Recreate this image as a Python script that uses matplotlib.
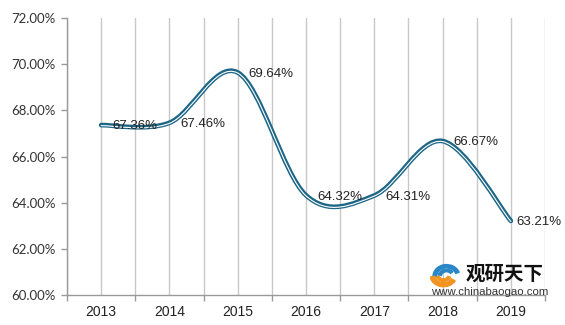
import matplotlib
matplotlib.use("Agg")
import matplotlib.pyplot as plt
import matplotlib.patheffects as pe
from matplotlib.path import Path
from matplotlib.patches import PathPatch, Wedge
from matplotlib.ticker import FuncFormatter, FixedLocator
import numpy as np

years = ["2013", "2014", "2015", "2016", "2017", "2018", "2019"]
rates = [67.36, 67.46, 69.64, 64.32, 64.31, 66.67, 63.21]
labels = ["67.36%", "67.46%", "69.64%", "64.32%", "64.31%", "66.67%", "63.21%"]


def smooth_path(xs, ys):
    # Excel-style smoothed line: cubic bezier through the points
    pts = np.column_stack([xs, ys])
    n = len(pts)
    verts = [pts[0]]
    codes = [Path.MOVETO]
    for i in range(n - 1):
        p0 = pts[max(i - 1, 0)]
        p1 = pts[i]
        p2 = pts[i + 1]
        p3 = pts[min(i + 2, n - 1)]
        c1 = p1 + (p2 - p0) / 6
        c2 = p2 - (p3 - p1) / 6
        verts += [c1, c2, p2]
        codes += [Path.CURVE4] * 3
    return Path(verts, codes)


fig = plt.figure(figsize=(5.65, 3.25), dpi=100)
ax = fig.add_axes([67 / 565, 30 / 325, 478 / 565, 277 / 325])

x = np.arange(len(years))
path = smooth_path(x, rates)
line = PathPatch(path, fill=False, edgecolor="#1d6686", linewidth=3.4,
                 capstyle="round", zorder=3)
line.set_path_effects([
    pe.Normal(),
    pe.Stroke(offset=(0, -0.4), linewidth=0.8, foreground="white"),
])
ax.add_patch(line)

for i, (xi, yi, lab) in enumerate(zip(x, rates, labels)):
    dx = 4 if i == len(x) - 1 else 8
    ax.annotate(lab, (xi, yi), xytext=(dx, -1), textcoords="offset points",
                ha="left", va="center", fontsize=9.5, color="#222222",
                family=["Liberation Sans Narrow", "Liberation Sans"], zorder=4)

ax.set_xlim(-0.5, 6.5)
ax.set_ylim(60, 72)
ax.set_yticks(np.arange(60, 72.01, 2))
ax.yaxis.set_major_formatter(FuncFormatter(lambda v, p: "%.2f%%" % v))

ax.set_xticks(x)
ax.set_xticklabels(years, family="Liberation Sans", fontsize=10, color="#222222")
ax.xaxis.set_minor_locator(FixedLocator(np.arange(-0.5, 6.6, 1)))
ax.tick_params(axis="x", which="major", length=0, pad=7)
ax.tick_params(axis="x", which="minor", length=4, color="#999999", width=1)
ax.tick_params(axis="y", length=4, color="#999999", width=1, pad=4)
for t in ax.get_yticklabels():
    t.set_family("Lato")
    t.set_fontsize(9.5)
    t.set_color("#333333")

ax.grid(axis="x", which="both", color="#c8c8c8", linewidth=1)
ax.set_axisbelow(True)
for s in ["top", "right"]:
    ax.spines[s].set_visible(False)
for s in ["left", "bottom"]:
    ax.spines[s].set_color("#999999")
    ax.spines[s].set_linewidth(1)

# watermark
logo = fig.add_axes([430 / 565, 37 / 325, 30 / 565, 26 / 325])
logo.set_xlim(-1, 1)
logo.set_ylim(-1, 1)
logo.axis("off")
logo.add_patch(Wedge((0.1, -0.1), 0.9, 20, 180, width=0.25, color="#2a86c6"))
logo.add_patch(Wedge((0.1, -0.1), 0.55, 40, 170, width=0.2, color="#2a86c6"))
logo.add_patch(Wedge((-0.1, 0.0), 0.9, 190, 330, width=0.3, color="#f29422"))
logo.add_patch(Wedge((-0.1, 0.0), 0.5, 200, 340, width=0.2, color="#f29422"))
fig.text(466 / 565, 1 - 274 / 325, "观研天下", family=["Noto Sans CJK SC", "DejaVu Sans"],
         fontweight="bold", fontsize=14, color="#111111", va="center", ha="left")
fig.text(431 / 565, 1 - 292 / 325, "www.chinabaogao.com", family="Liberation Sans",
         fontsize=8.2, color="#333333", va="center", ha="left")

fig.savefig("out.png", dpi=100)
